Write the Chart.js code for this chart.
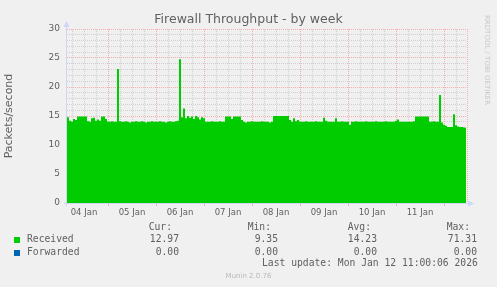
<!DOCTYPE html>
<html lang="en">
<head>
<meta charset="UTF-8">
<title>Firewall Throughput - by week</title>
<script src="https://cdn.jsdelivr.net/npm/chart.js"></script>
<style>
    body {
        margin: 0;
        background-color: #f0f0f0;
        font-family: 'DejaVu Sans', sans-serif;
    }
    #wrap {
        position: relative;
        width: 497px;
        height: 287px;
        overflow: hidden;
    }
    canvas {
        position: absolute;
        left: 0;
        top: 0;
    }
    .t {
        position: absolute;
        white-space: pre;
        color: #606060;
    }
    .title {
        left: 0;
        width: 497px;
        top: 11px;
        text-align: center;
        font-size: 12.5px;
        line-height: 15px;
    }
    .rrd {
        left: 483px;
        top: 15px;
        font-size: 7px;
        line-height: 8px;
        color: #c8c8c8;
        writing-mode: vertical-rl;
    }
    .mono {
        font-family: 'DejaVu Sans Mono', monospace;
        font-size: 9.7px;
        line-height: 12px;
    }
    .sq {
        position: absolute;
        width: 6px;
        height: 6px;
    }
    .wm {
        left: 0;
        width: 497px;
        top: 272px;
        text-align: center;
        font-size: 7px;
        line-height: 9px;
        color: #b8b8b8;
    }
</style>
</head>
<body>
<div id="wrap">
    <canvas id="chart" width="497" height="287"></canvas>
    <div class="t title">Firewall Throughput - by week</div>
    <div class="t rrd">RRDTOOL / TOBI OETIKER</div>
    <div id="legend"></div>
    <div class="t mono" style="left:262px; top:257px;">Last update: Mon Jan 12 11:00:06 2026</div>
    <div class="t wm">Munin 2.0.76</div>
</div>

<script>
    // hours counted from 04 Jan 00:00, one value per hour
    const startHour = 3;
    const dayLabels = ['04 Jan', '05 Jan', '06 Jan', '07 Jan', '08 Jan', '09 Jan', '10 Jan', '11 Jan'];

    const received = [
        14.0, 14.8, 14.2, 14.0, 14.5, 14.3, 14.9, 14.9, 14.9, 14.9, 14.9, 14.1,
        14.0, 14.6, 14.7, 14.2, 14.4, 14.2, 14.9, 14.9, 14.5, 14.0, 14.0, 14.1,
        14.0, 14.0, 23.1, 14.1, 14.0, 14.0, 14.1, 14.0, 13.9, 14.0, 14.0, 14.1,
        14.0, 14.0, 14.1, 14.0, 13.9, 14.0, 14.0, 14.1, 14.0, 14.0, 14.0, 14.1,
        14.0, 14.0, 13.9, 14.0, 14.1, 14.0, 14.0, 14.1, 14.2, 24.8, 14.8, 16.3,
        14.6, 15.0, 14.7, 14.9, 14.5, 15.0, 14.8, 14.4, 14.8, 14.6, 14.0, 14.0,
        14.0, 14.1, 14.0, 14.0, 14.0, 14.1, 14.0, 14.0, 14.9, 14.9, 14.9, 14.5,
        14.9, 14.9, 14.9, 14.9, 14.3, 14.0, 13.9, 14.0, 14.0, 14.1, 14.0, 14.0,
        14.0, 14.0, 14.1, 14.0, 14.0, 14.0, 13.9, 14.0, 15.0, 15.0, 15.0, 15.0,
        15.0, 15.0, 15.0, 15.0, 14.3, 14.0, 14.6, 14.1, 14.3, 14.0, 14.0, 14.0,
        14.1, 14.0, 14.0, 14.0, 14.0, 14.1, 14.0, 14.0, 14.0, 14.7, 14.2, 14.0,
        14.0, 14.0, 14.0, 14.6, 14.0, 14.0, 14.1, 14.0, 14.0, 14.0, 13.5, 14.0,
        14.0, 14.1, 14.0, 14.0, 14.0, 14.0, 14.1, 14.0, 14.0, 14.0, 14.0, 14.1,
        14.0, 14.0, 14.0, 14.0, 14.1, 14.0, 14.0, 14.0, 14.0, 14.2, 14.4, 14.0,
        14.0, 14.0, 14.0, 14.0, 14.0, 14.0, 14.1, 14.9, 14.9, 14.9, 14.9, 14.9,
        14.9, 14.9, 14.0, 14.0, 14.1, 14.0, 14.0, 18.6, 13.9, 13.5, 13.3, 13.1,
        13.1, 13.1, 15.3, 13.4, 13.2, 13.1, 13.1, 13.0, 12.97
    ];

    // legend table
    const seriesNames = ['Received', 'Forwarded'];
    const seriesColors = ['#00cc00', '#0066b3'];
    const curValues = ['12.97', '0.00'];
    const minValues = ['9.35', '0.00'];
    const avgValues = ['14.23', '0.00'];
    const maxValues = ['71.31', '0.00'];

    const gridMinor = '#d0d0d0';
    const gridMajor = '#f2b0b0';
    const axisColor = '#cfd6f8';

    const points = received.map((v, i) => ({ x: startHour + i, y: v }));

    // legend, written as text
    const legend = document.getElementById('legend');
    let html = '';
    const heads = ['Cur:', 'Min:', 'Avg:', 'Max:'];
    const headRight = [325, 226, 126, 27];
    const valRight = [318, 219, 120, 20];
    heads.forEach((h, j) => {
        html += `<div class="t mono" style="right:${headRight[j]}px; top:221px;">${h}</div>`;
    });
    seriesNames.forEach((name, i) => {
        const top = 233 + i * 12.5;
        html += `<div class="sq" style="left:14px; top:${top + 4}px; background:${seriesColors[i]};"></div>`;
        html += `<div class="t mono" style="left:27px; top:${top}px;">${name}</div>`;
        [curValues, minValues, avgValues, maxValues].forEach((arr, j) => {
            html += `<div class="t mono" style="right:${valRight[j]}px; top:${top}px;">${arr[i]}</div>`;
        });
    });
    legend.innerHTML = html;

    const muninFrame = {
        id: 'muninFrame',
        beforeDatasetsDraw(chart) {
            const { ctx, chartArea: a } = chart;
            ctx.save();
            ctx.strokeStyle = gridMajor;
            ctx.lineWidth = 1;
            ctx.setLineDash([1, 1]);
            ctx.beginPath();
            ctx.moveTo(a.right + 0.5, a.top);
            ctx.lineTo(a.right + 0.5, a.bottom);
            ctx.stroke();
            ctx.restore();
        },
        afterDatasetsDraw(chart) {
            const { ctx, chartArea: a } = chart;
            ctx.save();
            ctx.strokeStyle = axisColor;
            ctx.fillStyle = axisColor;
            ctx.lineWidth = 1;
            // left axis + arrow
            ctx.beginPath();
            ctx.moveTo(a.left - 0.5, a.bottom + 3);
            ctx.lineTo(a.left - 0.5, a.top - 3);
            ctx.stroke();
            ctx.beginPath();
            ctx.moveTo(a.left - 0.5, a.top - 8);
            ctx.lineTo(a.left - 3.5, a.top - 2);
            ctx.lineTo(a.left + 2.5, a.top - 2);
            ctx.closePath();
            ctx.fill();
            // bottom axis + arrow
            ctx.beginPath();
            ctx.moveTo(a.left - 3, a.bottom + 0.5);
            ctx.lineTo(a.right + 2, a.bottom + 0.5);
            ctx.stroke();
            ctx.beginPath();
            ctx.moveTo(a.right + 7, a.bottom + 0.5);
            ctx.lineTo(a.right + 1, a.bottom - 2.5);
            ctx.lineTo(a.right + 1, a.bottom + 3.5);
            ctx.closePath();
            ctx.fill();
            ctx.restore();
        }
    };

    new Chart(document.getElementById('chart').getContext('2d'), {
        type: 'line',
        data: {
            datasets: [{
                label: 'Received',
                data: points,
                stepped: 'middle',
                borderWidth: 0,
                borderColor: '#00cc00',
                backgroundColor: '#00cc00',
                pointRadius: 0,
                fill: 'origin'
            }]
        },
        options: {
            responsive: false,
            animation: false,
            layout: { padding: { left: 0, top: 29, right: 30, bottom: 0 } },
            plugins: {
                legend: { display: false },
                title: { display: false },
                tooltip: { enabled: false }
            },
            scales: {
                x: {
                    type: 'linear',
                    min: 3.5,
                    max: 203.5,
                    afterFit(scale) { scale.height = 84; },
                    afterBuildTicks(scale) {
                        scale.ticks = scale.ticks.filter(t => t.value % 6 === 0);
                    },
                    ticks: {
                        stepSize: 6,
                        includeBounds: false,
                        autoSkip: false,
                        maxRotation: 0,
                        padding: 2,
                        color: '#606060',
                        font: { family: 'DejaVu Sans', size: 8.5 },
                        callback(v) {
                            return v % 24 === 12 ? dayLabels[(v - 12) / 24] : '';
                        }
                    },
                    grid: {
                        lineWidth: 1,
                        tickLength: 3,
                        color(c) { return c.tick && c.tick.value % 24 === 0 ? gridMajor : gridMinor; },
                        tickColor(c) { return c.tick && c.tick.value % 24 === 0 ? gridMajor : 'rgba(0,0,0,0)'; }
                    },
                    border: { display: false, dash: [1, 1] }
                },
                y: {
                    min: 0,
                    max: 30,
                    afterFit(scale) { scale.width = 67; },
                    ticks: {
                        stepSize: 1,
                        autoSkip: false,
                        padding: 7,
                        color: '#606060',
                        font: { family: 'DejaVu Sans', size: 9 },
                        callback(v) { return v % 5 === 0 ? String(v) : ''; }
                    },
                    grid: {
                        drawTicks: false,
                        lineWidth: 1,
                        color(c) { return c.tick && c.tick.value % 5 === 0 ? gridMajor : gridMinor; }
                    },
                    border: { display: false, dash: [1, 1] },
                    title: {
                        display: true,
                        text: 'Packets/second',
                        color: '#606060',
                        font: { family: 'DejaVu Sans', size: 11 },
                        padding: { top: 3, bottom: 0 }
                    }
                }
            }
        },
        plugins: [muninFrame]
    });
</script>
</body>
</html>
